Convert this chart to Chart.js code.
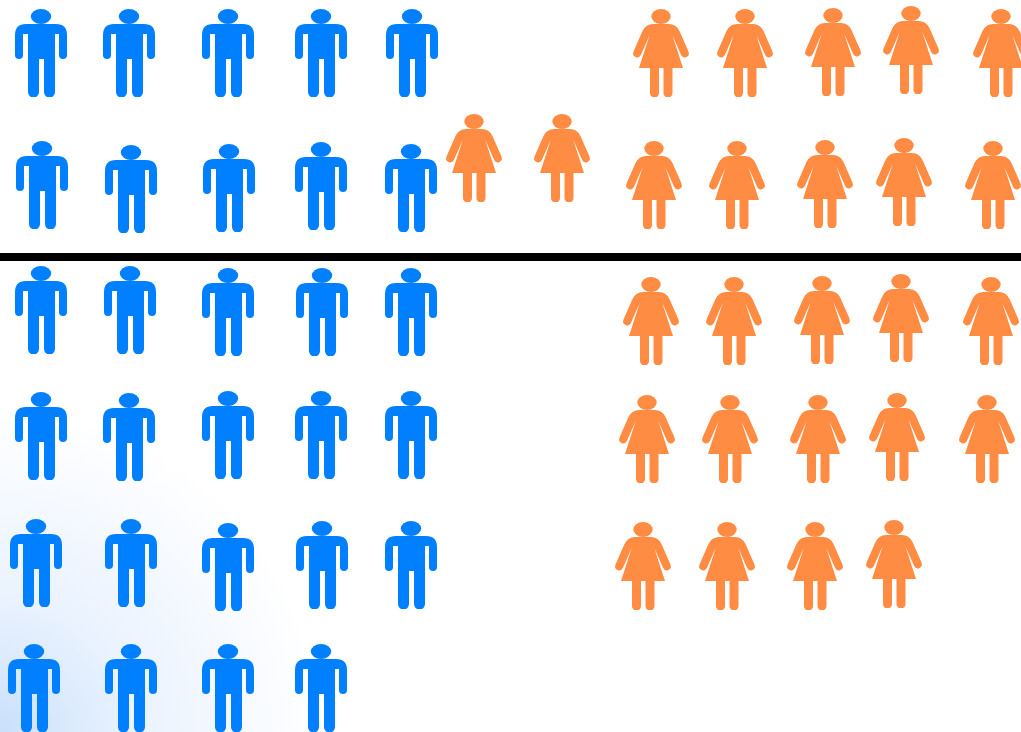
<!DOCTYPE html>
<html>
<head>
<meta charset="utf-8">
<title>Pictogram</title>
<script src="https://cdn.jsdelivr.net/npm/chart.js@4"></script>
<style>
    html, body { margin: 0; padding: 0; background: #fff; overflow: hidden; }
    canvas { display: block; }
</style>
</head>
<body>
<canvas id="chart" width="1021" height="732"></canvas>
<script>
// icon centres, left to right, row by row
const menX = [
    41, 129, 228, 321, 412,
    42, 131, 229, 321, 411,
    41, 130, 228, 322, 411,
    41, 129, 228, 321, 411,
    36, 131, 228, 322, 411,
    34, 131, 228, 321
];
const menY = [
    53, 53, 53, 53, 53,
    185, 189, 188, 186, 188,
    310, 310, 312, 312, 312,
    436, 437, 435, 435, 435,
    563, 563, 567, 565, 565,
    688, 688, 688, 688
];
const womenX = [
    661, 745, 833, 911, 1001,
    474, 562,
    654, 737, 825, 904, 993,
    651, 734, 822, 901, 991,
    647, 730, 818, 897, 987,
    643, 727, 815, 894
];
const womenY = [
    53, 53, 52, 50, 53,
    158, 158,
    185, 185, 184, 182, 185,
    321, 321, 320, 318, 321,
    439, 439, 439, 437, 439,
    566, 566, 566, 564
];
const dividerX = [0, 1021];
const dividerY = [257, 257];

const toPoints = (xs, ys) => xs.map((x, i) => ({ x: x, y: ys[i] }));

function makeManIcon(color) {
    const icon = document.createElement('canvas');
    icon.width = 52;
    icon.height = 88;
    const c = icon.getContext('2d');
    c.filter = 'blur(0.4px)';
    c.fillStyle = color;
    c.beginPath();
    c.ellipse(26, 7.5, 10.2, 7.5, 0, 0, Math.PI * 2);
    c.fill();
    c.beginPath();
    c.moveTo(0, 26);
    c.quadraticCurveTo(0, 15, 11, 15);
    c.lineTo(41, 15);
    c.quadraticCurveTo(52, 15, 52, 26);
    c.lineTo(52, 46);
    c.arc(48, 46, 4, 0, Math.PI);
    c.lineTo(44, 25);
    c.lineTo(40, 25);
    c.lineTo(40, 83);
    c.arc(34.5, 83, 5.5, 0, Math.PI);
    c.lineTo(29, 50);
    c.lineTo(24, 50);
    c.lineTo(24, 83);
    c.arc(18.5, 83, 5.5, 0, Math.PI);
    c.lineTo(13, 25);
    c.lineTo(8, 25);
    c.lineTo(8, 46);
    c.arc(4, 46, 4, 0, Math.PI);
    c.closePath();
    c.fill();
    return icon;
}

function makeWomanIcon(color) {
    const icon = document.createElement('canvas');
    icon.width = 56;
    icon.height = 88;
    const c = icon.getContext('2d');
    c.filter = 'blur(0.4px)';
    c.fillStyle = color;
    c.beginPath();
    c.ellipse(28, 7.5, 9.7, 7.5, 0, 0, Math.PI * 2);
    c.fill();
    // shoulders, arms and dress
    c.beginPath();
    c.moveTo(0.5, 42.6);
    c.lineTo(9.5, 22);
    c.quadraticCurveTo(13, 15, 20, 15);
    c.lineTo(36, 15);
    c.quadraticCurveTo(43, 15, 46.5, 22);
    c.lineTo(55.5, 42.6);
    c.arc(51.8, 44.3, 4, -0.43, Math.PI - 0.43);
    c.lineTo(39.3, 26);
    c.lineTo(50, 59);
    c.lineTo(39.5, 59);
    c.lineTo(39.5, 84);
    c.arc(35, 84, 4.5, 0, Math.PI);
    c.lineTo(30.5, 59);
    c.lineTo(26, 59);
    c.lineTo(26, 84);
    c.arc(21.5, 84, 4.5, 0, Math.PI);
    c.lineTo(17, 59);
    c.lineTo(6, 59);
    c.lineTo(16.7, 26);
    c.lineTo(7.9, 45.9);
    c.arc(4.2, 44.3, 4, 0.43, Math.PI + 0.43);
    c.closePath();
    c.fill();
    return icon;
}

// pale blue glow in the lower left corner
const cornerGlow = {
    id: 'cornerGlow',
    beforeDraw(chart) {
        const c = chart.ctx;
        const glow = c.createRadialGradient(0, chart.height, 0, 0, chart.height, 320);
        glow.addColorStop(0, '#c9e0fb');
        glow.addColorStop(0.4, '#e9f2fe');
        glow.addColorStop(1, '#ffffff');
        c.save();
        c.fillStyle = glow;
        c.fillRect(0, 0, chart.width, chart.height);
        c.restore();
    }
};

new Chart(document.getElementById('chart'), {
    type: 'scatter',
    data: {
        datasets: [{
            label: 'Men',
            data: toPoints(menX, menY),
            pointStyle: makeManIcon('#0080ff')
        }, {
            label: 'Women',
            data: toPoints(womenX, womenY),
            pointStyle: makeWomanIcon('#ff8c42')
        }, {
            type: 'line',
            label: 'Divider',
            data: toPoints(dividerX, dividerY),
            borderColor: '#000',
            borderWidth: 8,
            pointRadius: 0
        }]
    },
    plugins: [cornerGlow],
    options: {
        responsive: false,
        animation: false,
        layout: { padding: 0, autoPadding: false },
        plugins: {
            legend: { display: false },
            tooltip: { enabled: false }
        },
        scales: {
            x: { type: 'linear', display: false, min: 0, max: 1021 },
            y: { type: 'linear', display: false, min: 0, max: 732, reverse: true }
        }
    }
});
</script>
</body>
</html>
